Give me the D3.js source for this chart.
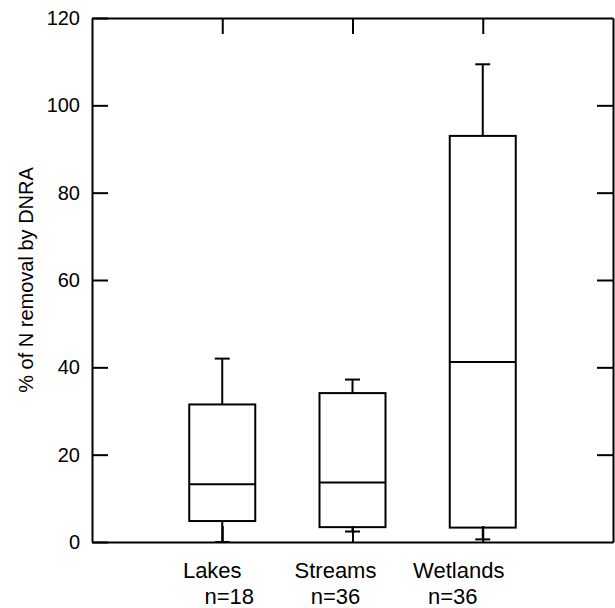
<!DOCTYPE html>
<html>
<head>
<meta charset="utf-8">
<script src="https://cdn.jsdelivr.net/npm/d3@7"></script>
<style>
  body { margin: 0; background: #fff; }
  text { font-family: Arial, "Liberation Sans", sans-serif; fill: #000; }
</style>
</head>
<body>
<div id="chart"></div>
<script>
// box plot data
var categories = ["Lakes", "Streams", "Wetlands"];
var nLabels = ["n=18", "n=36", "n=36"];
var whiskerLow = [0, 2.4, 0.6];
var q1 = [4.8, 3.4, 3.3];
var median = [13.2, 13.6, 41.2];
var q3 = [31.5, 34.1, 93.0];
var whiskerHigh = [42.0, 37.2, 109.4];
var yTicks = [0, 20, 40, 60, 80, 100, 120];

var W = 615, H = 608;
var margin = {left: 92, right: 613, top: 18, bottom: 542};

var data = categories.map(function(c, i) {
    return {cat: c, n: nLabels[i], pos: i + 1, lo: whiskerLow[i], q1: q1[i],
            med: median[i], q3: q3[i], hi: whiskerHigh[i]};
});

var x = d3.scaleLinear().domain([0, 4]).range([margin.left, margin.right]);
var y = d3.scaleLinear().domain([0, 120]).range([margin.bottom, margin.top]);

var svg = d3.select("#chart").append("svg")
    .attr("width", W)
    .attr("height", H);

var boxW = 66, capW = 15, tick = 16;

// axes, ticks pointing inward
var yAxisL = d3.axisLeft(y).tickValues(yTicks).tickSize(-tick).tickSizeOuter(0).tickPadding(12);
var yAxisR = d3.axisRight(y).tickValues(yTicks.slice(1, -1)).tickSize(-tick).tickSizeOuter(0).tickFormat("");
var xAxisT = d3.axisTop(x).tickValues(data.map(d => d.pos)).tickSize(-tick).tickSizeOuter(0).tickFormat("");
var xAxisB = d3.axisBottom(x).tickValues(data.map(d => d.pos)).tickSize(-tick).tickSizeOuter(0).tickFormat("");

svg.append("g").attr("class", "axis")
    .attr("transform", "translate(" + margin.left + ",0)")
    .call(yAxisL);
svg.append("g").attr("class", "axis")
    .attr("transform", "translate(" + margin.right + ",0)")
    .call(yAxisR);
svg.append("g").attr("class", "axis")
    .attr("transform", "translate(0," + margin.top + ")")
    .call(xAxisT);
svg.append("g").attr("class", "axis")
    .attr("transform", "translate(0," + margin.bottom + ")")
    .call(xAxisB);

svg.selectAll(".axis path, .axis line")
    .attr("stroke", "#000")
    .attr("stroke-width", 2);
svg.selectAll(".axis text")
    .style("font-size", "20px")
    .style("font-family", "Arial, 'Liberation Sans', sans-serif");

// boxes
var g = svg.selectAll(".box")
    .data(data)
    .enter().append("g")
    .attr("class", "box");

g.append("line")
    .attr("x1", d => x(d.pos)).attr("x2", d => x(d.pos))
    .attr("y1", d => y(d.q3)).attr("y2", d => y(d.hi));
g.append("line")
    .attr("x1", d => x(d.pos)).attr("x2", d => x(d.pos))
    .attr("y1", d => y(d.q1)).attr("y2", d => y(d.lo));
g.append("line")
    .attr("x1", d => x(d.pos) - capW / 2).attr("x2", d => x(d.pos) + capW / 2)
    .attr("y1", d => y(d.hi)).attr("y2", d => y(d.hi));
g.append("line")
    .attr("x1", d => x(d.pos) - capW / 2).attr("x2", d => x(d.pos) + capW / 2)
    .attr("y1", d => y(d.lo)).attr("y2", d => y(d.lo));
g.append("rect")
    .attr("x", d => x(d.pos) - boxW / 2)
    .attr("width", boxW)
    .attr("y", d => y(d.q3))
    .attr("height", d => y(d.q1) - y(d.q3))
    .attr("fill", "none");
g.append("line")
    .attr("x1", d => x(d.pos) - boxW / 2).attr("x2", d => x(d.pos) + boxW / 2)
    .attr("y1", d => y(d.med)).attr("y2", d => y(d.med));

g.selectAll("line, rect")
    .attr("stroke", "#000")
    .attr("stroke-width", 2);

// category labels (offset a bit as in the original)
var catShift = [-10, -17, -24];
var nShift = [7, -17, -30];

svg.selectAll(".cat")
    .data(data)
    .enter().append("text")
    .attr("class", "cat")
    .attr("x", (d, i) => x(d.pos) + catShift[i])
    .attr("y", 578)
    .attr("text-anchor", "middle")
    .style("font-size", "22px")
    .text(d => d.cat);

svg.selectAll(".nlab")
    .data(data)
    .enter().append("text")
    .attr("class", "nlab")
    .attr("x", (d, i) => x(d.pos) + nShift[i])
    .attr("y", 604)
    .attr("text-anchor", "middle")
    .style("font-size", "22px")
    .text(d => d.n);

// y axis label
svg.append("text")
    .attr("transform", "translate(33," + ((margin.top + margin.bottom) / 2) + ") rotate(-90)")
    .attr("text-anchor", "middle")
    .style("font-size", "20px")
    .text("% of N removal by DNRA");
</script>
</body>
</html>
